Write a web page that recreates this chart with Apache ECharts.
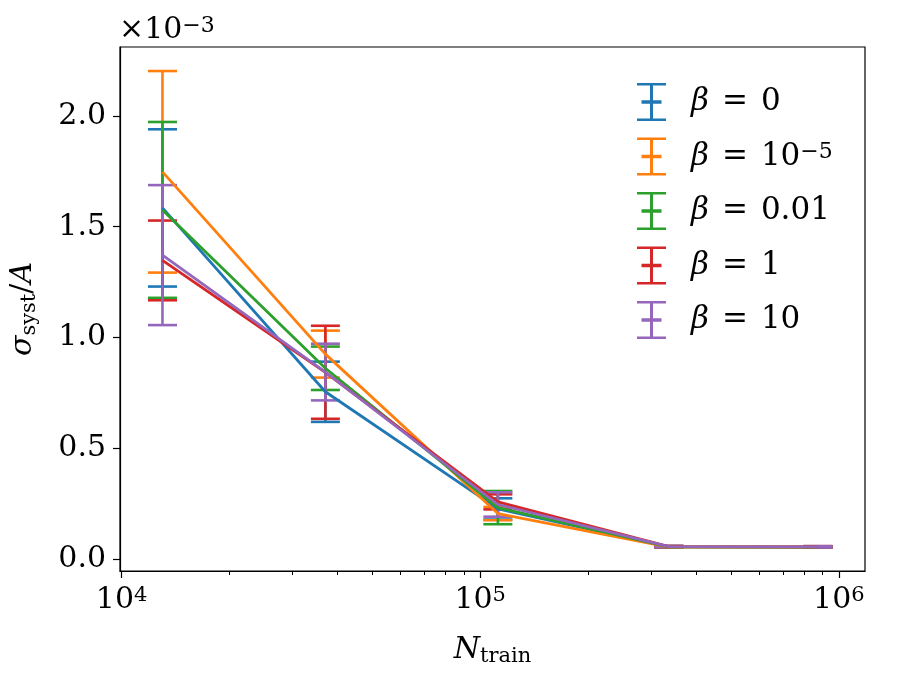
<!DOCTYPE html>
<html>
<head>
<meta charset="utf-8">
<script src="https://cdn.jsdelivr.net/npm/echarts@6/dist/echarts.min.js"></script>
<style>
html, body {margin: 0; padding: 0; background: #fff;}
#chart {width: 900px; height: 675px;}
</style>
</head>
<body>
<div id="chart"></div>
<script>
// training set sizes
var nTrain = [13000, 37000, 112000, 336000, 875000];

// sigma_syst / A, in units of 1e-3, with error bar half-widths
var meanB0 = [1.585, 0.755, 0.226, 0.055, 0.054];
var errB0 = [0.355, 0.136, 0.048, 0.003, 0.003];
var meanB1e5 = [1.748, 0.925, 0.205, 0.054, 0.054];
var errB1e5 = [0.455, 0.106, 0.030, 0.003, 0.003];
var meanB001 = [1.576, 0.861, 0.232, 0.055, 0.054];
var errB001 = [0.397, 0.098, 0.075, 0.003, 0.003];
var meanB1 = [1.348, 0.843, 0.258, 0.056, 0.055];
var errB1 = [0.180, 0.210, 0.034, 0.003, 0.003];
var meanB10 = [1.372, 0.844, 0.246, 0.056, 0.055];
var errB10 = [0.316, 0.128, 0.055, 0.003, 0.003];

var legendNames = ['β = 0', 'β = 10^−5', 'β = 0.01', 'β = 1', 'β = 10'];
var yTicks = [0, 0.5, 1.0, 1.5, 2.0];
var xTicks = [4, 5, 6];

var colors = ['#1f77b4', '#ff7f0e', '#2ca02c', '#d62728', '#9467bd'];
var means = [meanB0, meanB1e5, meanB001, meanB1, meanB10];
var errs = [errB0, errB1e5, errB001, errB1, errB10];

var font = 'DejaVu Serif';
var xMin = 3.9955, xMax = 6.073;
var yMin = -0.0542, yMax = 2.3115;

// minor ticks at 2..9 x 10^k
var minorTicks = [];
for (var d = 3; d <= 6; d++) {
    for (var k = 2; k <= 9; k++) {
        var v = Math.log10(k * Math.pow(10, d));
        if (v > xMin && v < xMax) minorTicks.push(v);
    }
}

function renderErr(params, api) {
    var x = api.value(0), lo = api.value(1), hi = api.value(2);
    var p1 = api.coord([x, hi]), p2 = api.coord([x, lo]);
    var cw = 14.5;
    var st = {stroke: api.visual('color'), lineWidth: 2.6, fill: null};
    return {type: 'group', children: [
        {type: 'line', shape: {x1: p1[0], y1: p1[1], x2: p2[0], y2: p2[1]}, style: st},
        {type: 'line', shape: {x1: p1[0] - cw, y1: p1[1], x2: p1[0] + cw, y2: p1[1]}, style: st},
        {type: 'line', shape: {x1: p2[0] - cw, y1: p2[1], x2: p2[0] + cw, y2: p2[1]}, style: st}
    ]};
}

var series = [];
for (var i = 0; i < 5; i++) {
    var lineData = [], errData = [];
    for (var j = 0; j < nTrain.length; j++) {
        var lx = Math.log10(nTrain[j]);
        lineData.push([lx, means[i][j]]);
        errData.push([lx, means[i][j] - errs[i][j], means[i][j] + errs[i][j]]);
    }
    series.push({
        name: 'line' + i,
        type: 'line',
        data: lineData,
        symbol: 'none',
        color: colors[i],
        lineStyle: {width: 2.8, color: colors[i]},
        z: 2
    });
    series.push({
        name: legendNames[i],
        type: 'custom',
        data: errData,
        renderItem: renderErr,
        encode: {x: 0, y: [1, 2]},
        itemStyle: {color: colors[i]},
        z: 2
    });
}

var errIcon = 'path://M0 0H29V2.4H0Z M13 0H16V38H13Z M0 35.6H29V38H0Z M4.5 17.3H24.5V20.7H4.5Z';

var chart = echarts.init(document.getElementById('chart'));
chart.setOption({
    animation: false,
    backgroundColor: '#fff',
    grid: {left: 120, right: 35, top: 47, bottom: 104, show: true, borderColor: '#000', borderWidth: 1.2, backgroundColor: 'transparent'},
    graphic: [{
        type: 'text', left: 119, top: 15,
        style: {
            text: '{t|×10}{sup|−3}',
            rich: {
                t: {fontFamily: font, fontSize: 30, fill: '#000'},
                sup: {fontFamily: font, fontSize: 22, fill: '#000', verticalAlign: 'top'}
            }
        }
    }],
    legend: {
        orient: 'vertical',
        left: 632, top: 78,
        itemWidth: 29, itemHeight: 38, itemGap: 16.5,
        data: legendNames.map(function (n) { return {name: n, icon: errIcon}; }),
        formatter: function (name) {
            var parts = name.split('^');
            var s = '{it|β}{eq|=}{t|' + parts[0].slice(4) + '}';
            if (parts[1]) s += '{sup|' + parts[1] + '}';
            return s;
        },
        textStyle: {
            padding: [0, 0, 0, 20],
            rich: {
                it: {fontFamily: font, fontSize: 31, fontStyle: 'italic', color: '#000'},
                eq: {fontFamily: font, fontSize: 31, color: '#000', padding: [0, 13, 0, 13]},
                t: {fontFamily: font, fontSize: 31, color: '#000'},
                sup: {fontFamily: font, fontSize: 22, color: '#000', verticalAlign: 'top'}
            }
        }
    },
    xAxis: [{
        type: 'value', min: xMin, max: xMax, position: 'bottom',
        name: '{it|N}{sub|train}', nameLocation: 'middle', nameGap: 62,
        nameTextStyle: {
            rich: {
                it: {fontFamily: font, fontSize: 30, fontStyle: 'italic', color: '#000', lineHeight: 34},
                sub: {fontFamily: font, fontSize: 21, color: '#000', verticalAlign: 'bottom', lineHeight: 18}
            }
        },
        axisLine: {show: true, onZero: false, lineStyle: {color: '#000', width: 1.2}},
        axisTick: {show: true, customValues: xTicks, length: 7, lineStyle: {color: '#000', width: 1.2}},
        axisLabel: {
            customValues: xTicks, margin: 14,
            formatter: function (v) { return '{t|10}{sup|' + Math.round(v) + '}'; },
            rich: {
                t: {fontFamily: font, fontSize: 30, color: '#000'},
                sup: {fontFamily: font, fontSize: 21, color: '#000', verticalAlign: 'top'}
            }
        },
        splitLine: {show: false}
    }, {
        type: 'value', min: xMin, max: xMax, position: 'bottom',
        axisLine: {show: false, onZero: false},
        axisTick: {show: true, customValues: minorTicks, length: 4, lineStyle: {color: '#000', width: 1}},
        axisLabel: {show: false},
        splitLine: {show: false}
    }],
    yAxis: {
        type: 'value', min: yMin, max: yMax,
        name: '{it|σ}{sub|syst}{t|/}{it|A}', nameLocation: 'middle', nameGap: 80, nameRotate: 90,
        nameTextStyle: {
            rich: {
                it: {fontFamily: font, fontSize: 30, fontStyle: 'italic', color: '#000', lineHeight: 34},
                t: {fontFamily: font, fontSize: 30, color: '#000', lineHeight: 34},
                sub: {fontFamily: font, fontSize: 21, color: '#000', verticalAlign: 'bottom', lineHeight: 18}
            }
        },
        axisLine: {show: true, onZero: false, lineStyle: {color: '#000', width: 1.2}},
        axisTick: {show: true, customValues: yTicks, length: 7, lineStyle: {color: '#000', width: 1.2}},
        axisLabel: {
            customValues: yTicks, margin: 14,
            fontFamily: font, fontSize: 30, color: '#000',
            formatter: function (v) { return v.toFixed(1); }
        },
        splitLine: {show: false}
    },
    series: series
});
</script>
</body>
</html>
